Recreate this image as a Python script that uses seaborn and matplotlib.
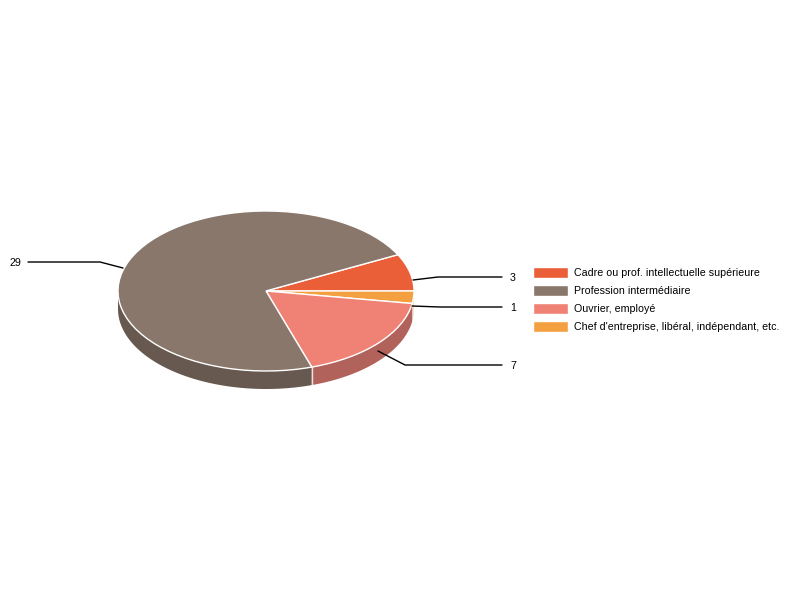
import numpy as np
import seaborn as sns
import matplotlib.pyplot as plt

categories = ['Cadre ou prof. intellectuelle supérieure', 'Profession intermédiaire',
              'Ouvrier, employé', "Chef d'entreprise, libéral, indépendant, etc."]
# order of the slices, clockwise from the start angle
slice_order = [0, 3, 2, 1]
values = [3, 29, 7, 1]
colors = ['#EB5F38', '#88776A', '#EF8275', '#F5A040']
dark_colors = ['#B04729', '#67594F', '#B1625A', '#F0DFCB']

# leader lines in pixels, one per category
leaders = {
    0: ([413, 438, 502], [280, 277, 277]),
    1: ([123, 100, 28], [268, 262, 262]),
    2: ([378, 405, 502], [351, 365, 365]),
    3: ([412, 440, 502], [306, 307, 307]),
}
label_pos = {0: (510, 278), 1: (10, 263), 2: (510, 366), 3: (510, 308)}

sns.set_theme(style='white')
plt.rcParams['font.family'] = ['Liberation Sans', 'DejaVu Sans']

# pie centre and radii in pixels
cx, cy, rx, ry, depth = 266, 291, 148, 80, 18
start = 27


def px(x, y):
    return (np.asarray(x, dtype=float) - cx) / rx, (cy - np.asarray(y, dtype=float)) / ry


fig = plt.figure(figsize=(8, 6), dpi=100)
ax = fig.add_axes([0, 0, 1, 1])

ordered_vals = [values[i] for i in slice_order]
ordered_cols = sns.color_palette([colors[i] for i in slice_order])
ordered_dark = [dark_colors[i] for i in slice_order]

wedges, _ = ax.pie(ordered_vals, colors=ordered_cols, startangle=start, counterclock=False,
                   radius=1, wedgeprops={'edgecolor': 'white', 'linewidth': 1.0, 'zorder': 3})

# side wall of the pie, only the front half shows
d = depth / ry
angle = start
for val, col in zip(ordered_vals, ordered_dark):
    end = angle - val / sum(values) * 360
    a0, a1 = max(end, -180), min(angle, 0)
    if a1 > a0:
        t = np.radians(np.linspace(a0, a1, 60))
        xs = np.concatenate([np.cos(t), np.cos(t[::-1])])
        ys = np.concatenate([np.sin(t), np.sin(t[::-1]) - d])
        ax.fill(xs, ys, color=col, lw=0, zorder=1)
    if end == -72:
        ax.plot([np.cos(np.radians(end))] * 2,
                [np.sin(np.radians(end)), np.sin(np.radians(end)) - d],
                color='white', lw=1, alpha=0.8, zorder=2)
    angle = end

for i, (xp, yp) in leaders.items():
    lx, ly = px(xp, yp)
    ax.plot(lx, ly, color='black', lw=1, zorder=4)
    tx, ty = px(*label_pos[i])
    ax.text(tx, ty, str(values[i]), fontsize=7.7, color='black', ha='left', va='center', zorder=5)

ax.set_aspect('auto')
ax.set_xlim(*px([0, 800], [0, 0])[0])
ax.set_ylim(px(0, 600)[1], px(0, 0)[1])
ax.axis('off')

handles = [wedges[slice_order.index(i)] for i in range(len(categories))]
bx, by = px(533, 266.5)
ax.legend(handles, categories, loc='upper left', bbox_to_anchor=(bx, by),
          bbox_transform=ax.transData, frameon=False, fontsize=7.7, labelcolor='black',
          borderpad=0, borderaxespad=0, handlelength=3.25, handleheight=1.3,
          handletextpad=0.55, labelspacing=0.6)

fig.savefig('out.png', dpi=100)
